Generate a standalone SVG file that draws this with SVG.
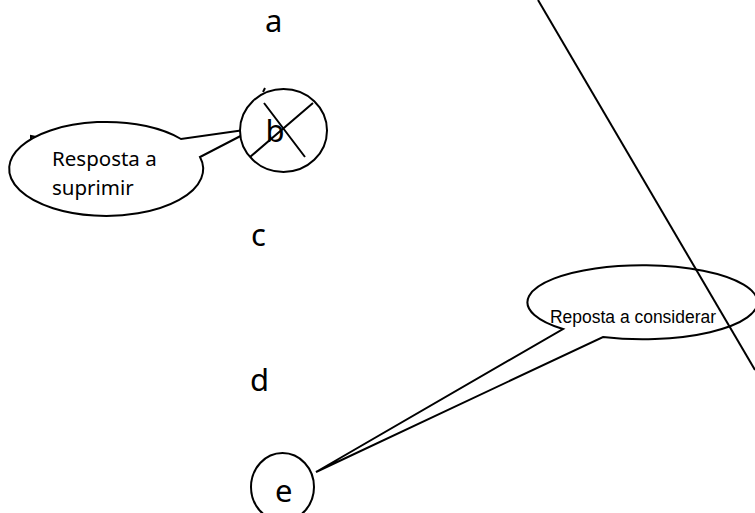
<svg xmlns="http://www.w3.org/2000/svg" width="755" height="513" viewBox="0 0 755 513">
<style>
.s{fill:none;stroke:#000;stroke-width:2}
.w{fill:#fff;stroke:#000;stroke-width:2}
.lbl{font-family:"Noto Sans","DejaVu Sans",sans-serif;font-size:31px;fill:#000}
.cb{font-family:"Noto Sans","DejaVu Sans",sans-serif;font-size:20.5px;fill:#000}
.ce{font-family:"Liberation Sans",Arial,sans-serif;font-size:17.5px;fill:#000}
</style>
<rect width="755" height="513" fill="#fff"/>
<g id="label-a"><text class="lbl" x="265" y="32">a</text></g>
<g id="label-c"><text class="lbl" x="251" y="246">c</text></g>
<g id="label-d"><text class="lbl" x="250" y="391">d</text></g>
<g id="fragments">
<path class="s" d="M263 92 L265 88" stroke-width="1.5"/>
<path class="s" d="M31 141 L31 136 L36 137" stroke-width="1.2"/>
</g>
<g id="callout-suprimir">
<path class="w" d="M200 157 A97 47 0 1 1 181 139 L255 128.5 Z"/>
<text class="cb" x="52" y="166">Resposta a</text>
<text class="cb" x="52" y="195">suprimir</text>
</g>
<g id="node-b">
<ellipse class="w" cx="283.5" cy="130.5" rx="43.5" ry="41.5"/>
<text class="lbl" x="265.5" y="142">b</text>
<path class="s" d="M264 103 L305 157 M313 103 L250 157"/>
</g>
<g id="callout-considerar">
<path class="w" d="M563 329 A115 37 0 1 1 603 337 L316 472 Z"/>
<text class="ce" x="550" y="323" textLength="166" lengthAdjust="spacingAndGlyphs">Reposta a considerar</text>
</g>
<g id="node-e">
<ellipse class="w" cx="282.5" cy="487" rx="31.5" ry="34"/>
<text class="lbl" x="275" y="502">e</text>
</g>
<g id="connectors">
<line class="s" x1="538" y1="0" x2="755" y2="370"/>
</g>
</svg>
